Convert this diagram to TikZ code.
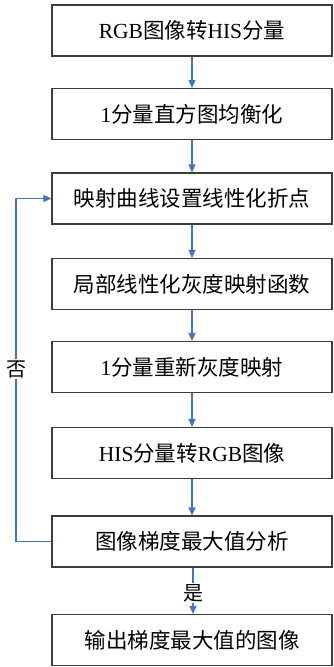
\documentclass[tikz,border=0pt]{standalone}
\usepackage{fontspec}
\setmainfont{Liberation Serif}
\newfontfamily\cjk{Noto Sans CJK SC}
\usetikzlibrary{arrows.meta}
\definecolor{arrowblue}{RGB}{68,114,196}
\definecolor{boxline}{RGB}{60,60,60}
\tikzset{
  stepbox/.style={draw=boxline, line width=1.1pt, minimum width=280pt, minimum height=51pt, inner sep=0pt, font=\fontsize{21.5}{25}\selectfont},
  flowarrow/.style={draw=arrowblue, line width=1.1pt, -{Triangle[length=8pt,width=7pt]}},
  flowline/.style={draw=arrowblue, line width=1.1pt},
  lbl/.style={font=\fontsize{20}{23}\selectfont\cjk, inner sep=1pt}
}
\begin{document}
\begin{tikzpicture}[x=1pt,y=-1pt]
\useasboundingbox (0,0) rectangle (333,667);
\node[stepbox] (b1) at (192,30.5) {RGB{\cjk 图像转}HIS{\cjk 分量}};
\node[stepbox] (b2) at (192,114) {1{\cjk 分量直方图均衡化}};
\node[stepbox] (b3) at (192,198.5) {\cjk 映射曲线设置线性化折点};
\node[stepbox] (b4) at (192,284) {\cjk 局部线性化灰度映射函数};
\node[stepbox] (b5) at (192,367) {1{\cjk 分量重新灰度映射}};
\node[stepbox] (b6) at (192,453) {HIS{\cjk 分量转}RGB{\cjk 图像}};
\node[stepbox] (b7) at (192,541.5) {\cjk 图像梯度最大值分析};
\node[stepbox] (b8) at (192,640) {\cjk 输出梯度最大值的图像};
\node[lbl] (yes) at (193,593) {是};
\node[lbl] (no) at (16,369) {否};
\coordinate (lb) at (16,541.5);
\coordinate (lt) at (16,198.5);
\draw[flowarrow] (b1) -- (b2);
\draw[flowarrow] (b2) -- (b3);
\draw[flowarrow] (b3) -- (b4);
\draw[flowarrow] (b4) -- (b5);
\draw[flowarrow] (b5) -- (b6);
\draw[flowarrow] (b6) -- (b7);
\draw[flowline] (b7.south -| yes) -- (yes.north);
\draw[flowarrow] (yes.south) -- (b8.north -| yes);
\draw[flowline] (b7.west) -- (lb) -- (no.south);
\draw[flowarrow] (no.north) -- (lt) -- (b3.west);
\end{tikzpicture}
\end{document}
